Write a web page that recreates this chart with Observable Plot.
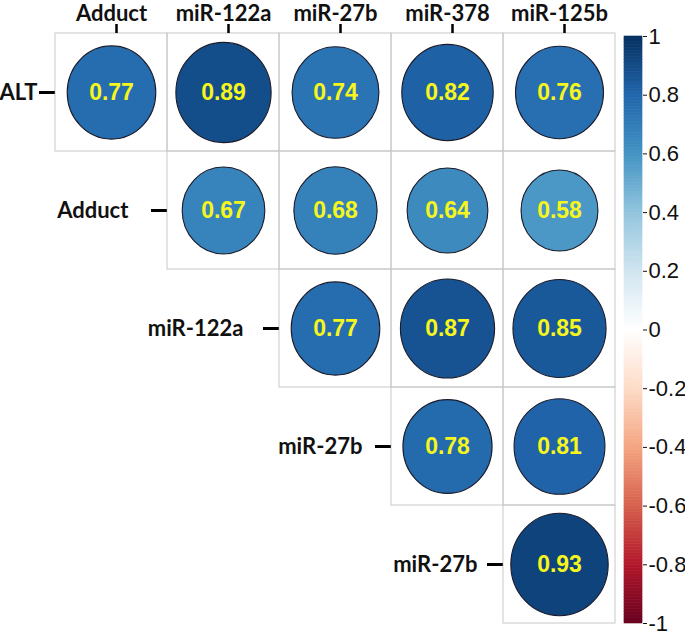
<!DOCTYPE html>
<html>
<head>
<meta charset="utf-8">
<script src="https://cdn.jsdelivr.net/npm/d3@7"></script>
<script src="https://cdn.jsdelivr.net/npm/@observablehq/plot@0.6"></script>
<style>
  html, body { margin: 0; padding: 0; background: #fff; }
  #wrap { display: flex; flex-direction: row; width: 685px; height: 636px; }
  #wrap svg { display: block; }
</style>
</head>
<body>
<div id="wrap"></div>
<script>
// ---- data ----
const cols = ["Adduct", "miR-122a", "miR-27b", "miR-378", "miR-125b"];
const rowLabels = ["ALT", "Adduct", "miR-122a", "miR-27b", "miR-27b"];
const corrRows = [
  [0.77, 0.89, 0.74, 0.82, 0.76],
  [0.67, 0.68, 0.64, 0.58],
  [0.77, 0.87, 0.85],
  [0.78, 0.81],
  [0.93]
];
const colorTicks = [1, 0.8, 0.6, 0.4, 0.2, 0, -0.2, -0.4, -0.6, -0.8, -1];
const paletteDomain = [-1, -0.8, -0.6, -0.4, -0.2, 0, 0.2, 0.4, 0.6, 0.8, 1];
const paletteColors = ["#67001F", "#B2182B", "#D6604D", "#F4A582", "#FDDBC7", "#FFFFFF",
                       "#D1E5F0", "#92C5DE", "#4393C3", "#2166AC", "#053061"];

// ---- table ----
const cells = [];
corrRows.forEach((vals, i) => vals.forEach((v, k) => cells.push({row: i, col: cols[i + k], value: v})));
const firstCells = rowLabels.map((label, i) => ({row: i, col: cols[i], label}));
const topCells = cols.map(c => ({row: 0, col: c}));

// ---- layout ----
const W = 622, H = 636;
const mL = 54, mR = 7, mT = 33, mB = 13;
const cw = (W - mL - mR) / cols.length;
const ch = (H - mT - mB) / rowLabels.length;
const kx = Math.sqrt(cw / ch), ky = Math.sqrt(ch / cw);
const rowTickLen = 16;
const rowLabelGap = [0, 21, 18, 11, 8]; // spacing between each row label and its tick
const headFont = 22, headBaseline = 20.5;

const ellipse = {
  draw(ctx, size) {
    const r = Math.sqrt(size / Math.PI);
    const rx = r * kx, ry = r * ky, k = 0.5522847498;
    ctx.moveTo(rx, 0);
    ctx.bezierCurveTo(rx, k * ry, k * rx, ry, 0, ry);
    ctx.bezierCurveTo(-k * rx, ry, -rx, k * ry, -rx, 0);
    ctx.bezierCurveTo(-rx, -k * ry, -k * rx, -ry, 0, -ry);
    ctx.bezierCurveTo(k * rx, -ry, rx, -k * ry, rx, 0);
    ctx.closePath();
  }
};

const colorScale = {type: "linear", domain: paletteDomain, range: paletteColors, interpolate: "rgb"};
const labelFont = "Lato, 'Open Sans', sans-serif";

const main = Plot.plot({
  width: W, height: H,
  marginLeft: mL, marginRight: mR, marginTop: mT, marginBottom: mB,
  style: {background: "white"},
  x: {type: "band", domain: cols, padding: 0, axis: null},
  y: {type: "band", domain: d3.range(rowLabels.length), padding: 0, axis: null},
  r: {type: "sqrt", domain: [0, 1], range: [0, 0.45 * Math.sqrt(cw * ch)]},
  color: colorScale,
  marks: [
    Plot.cell(cells, {x: "col", y: "row", fill: "none", stroke: "#c8c8c8", strokeWidth: 1, inset: 0}),
    Plot.dot(cells, {x: "col", y: "row", r: d => Math.abs(d.value), fill: "value",
      symbol: ellipse, stroke: "#1b1b2a", strokeWidth: 1.1}),
    Plot.text(cells, {x: "col", y: "row", text: d => d.value.toFixed(2), fill: "#f6f61c",
      fontSize: 23, fontWeight: "bold", fontFamily: "'Liberation Sans', Arial, sans-serif"}),
    // column header ticks + labels
    Plot.tickX(topCells, {x: "col", y: "row", stroke: "black", strokeWidth: 2.5,
      insetTop: 0, insetBottom: ch - 9, dy: -9, dx: 5}),
    Plot.text(topCells, {x: "col", y: "row", text: "col",
      dy: -(mT - headBaseline) - ch / 2 - 0.32 * headFont,
      fontSize: headFont, fontWeight: "bold", fontFamily: labelFont, fill: "#111"}),
    // row label ticks + labels
    Plot.tickY(firstCells, {x: "col", y: "row", stroke: "black", strokeWidth: 3,
      insetLeft: cw - rowTickLen, insetRight: 0, dx: -cw}),
    ...firstCells.map((d, i) => Plot.text([d], {x: "col", y: "row", text: "label", textAnchor: "end",
      dx: -cw / 2 - rowTickLen - 2 - rowLabelGap[i],
      fontSize: headFont, fontWeight: "bold", fontFamily: labelFont, fill: "#111"}))
  ]
});

// ---- colorbar ----
const slices = d3.range(-100, 100).map(i => i / 100);
const bar = Plot.plot({
  width: 685 - W, height: H,
  marginLeft: 2, marginRight: 685 - W - 20, marginTop: 36, marginBottom: 13,
  style: {background: "white", fontSize: "22px", fontFamily: "'Liberation Sans', Arial, sans-serif", color: "#111"},
  x: {domain: [0, 1], axis: null},
  y: {domain: [-1, 1], axis: "right", ticks: colorTicks, tickSize: 4, tickPadding: 2,
      tickFormat: d => String(+d.toFixed(1)), label: null},
  color: colorScale,
  marks: [
    Plot.rect(slices, {x1: 0, x2: 1, y1: d => d, y2: d => d + 0.01, fill: d => d + 0.005,
      stroke: d => d + 0.005, strokeWidth: 0.6})
  ]
});

const wrap = document.getElementById("wrap");
wrap.appendChild(main);
wrap.appendChild(bar);
</script>
</body>
</html>
